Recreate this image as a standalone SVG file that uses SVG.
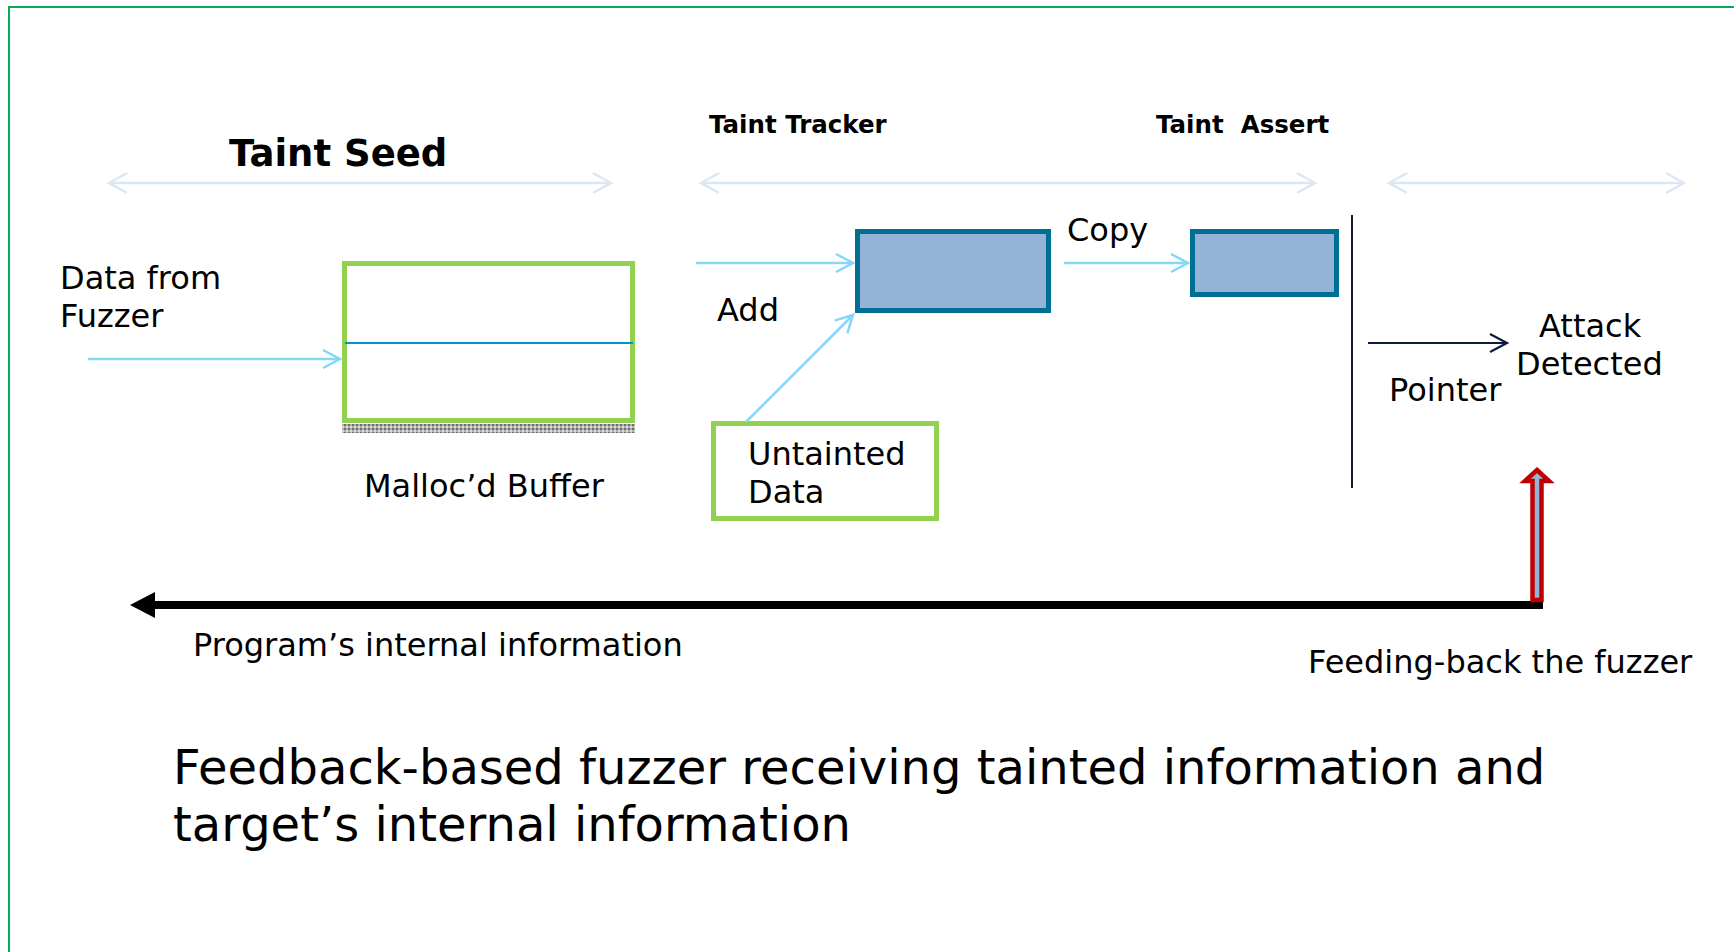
<svg xmlns="http://www.w3.org/2000/svg" width="1734" height="952" viewBox="0 0 1734 952">
  <defs>
    <style>
      .t { font-family: "DejaVu Sans", "Noto Sans", sans-serif; fill: #000; }
      .lbl { font-size: 32px; }
      .hdr { font-weight: bold; font-size: 24.5px; white-space: pre; }
      .cap { font-size: 48px; }
      .pale { stroke: #dbe7f3; stroke-width: 2.5; fill: none; marker-start: url(#mPale); marker-end: url(#mPale); }
      .sky { stroke: #86d6f7; stroke-width: 2.5; fill: none; marker-end: url(#mSky); }
      .greenbox { fill: #fff; stroke: #92d050; stroke-width: 5; }
      .bluebox { fill: #95b3d7; stroke: #006f94; stroke-width: 5; }
    </style>
    <marker id="mPale" viewBox="-22 -12 26 24" markerWidth="26" markerHeight="24" refX="0" refY="0" markerUnits="userSpaceOnUse" orient="auto-start-reverse">
      <path d="M-18,-10 L0,0 L-18,10" fill="none" stroke="#dbe7f3" stroke-width="2.5"/>
    </marker>
    <marker id="mSky" viewBox="-22 -12 26 24" markerWidth="26" markerHeight="24" refX="0" refY="0" markerUnits="userSpaceOnUse" orient="auto">
      <path d="M-17,-9 L0,0 L-17,9" fill="none" stroke="#86d6f7" stroke-width="2.5"/>
    </marker>
    <marker id="mNavy" viewBox="-22 -12 26 24" markerWidth="26" markerHeight="24" refX="0" refY="0" markerUnits="userSpaceOnUse" orient="auto">
      <path d="M-17,-9 L0,0 L-17,9" fill="none" stroke="#0d1b3e" stroke-width="2.2"/>
    </marker>
    <pattern id="hatch" width="4" height="4" patternUnits="userSpaceOnUse">
      <rect width="4" height="4" fill="#b0b0b0"/>
      <rect width="2" height="2" fill="#6e6e6e"/>
      <rect x="2" y="2" width="2" height="2" fill="#d8d8d8"/>
    </pattern>
  </defs>

  <rect width="1734" height="952" fill="#fff"/>
  <!-- frame -->
  <rect x="9" y="7" width="1800" height="1000" fill="none" stroke="#00b050" stroke-width="2"/>

  <!-- section headers -->
  <g id="hdr-taint-seed">
    <text class="t" x="229" y="166" font-size="37" font-weight="bold">Taint Seed</text>
  </g>
  <g id="hdr-taint-tracker">
    <text class="t hdr" x="709" y="133">Taint Tracker</text>
  </g>
  <g id="hdr-taint-assert">
    <text class="t hdr" x="1156" y="133">Taint  Assert</text>
  </g>

  <!-- nodes -->
  <g id="data-from-fuzzer">
    <text class="t lbl" x="60" y="289">Data from</text>
    <text class="t lbl" x="60" y="327">Fuzzer</text>
  </g>

  <g id="malloc-buffer">
    <rect x="342" y="424" width="293" height="9" fill="url(#hatch)"/>
    <rect class="greenbox" x="344.5" y="263.5" width="288" height="157"/>
    <line x1="345" y1="343" x2="633" y2="343" stroke="#0095cd" stroke-width="2"/>
    <text class="t lbl" x="364" y="497">Malloc’d Buffer</text>
  </g>

  <g id="tracker-box">
    <rect class="bluebox" x="857.5" y="231.5" width="191" height="79"/>
  </g>

  <g id="assert-box">
    <rect class="bluebox" x="1192.5" y="231.5" width="144" height="63"/>
  </g>

  <g id="untainted-data">
    <rect class="greenbox" x="713.5" y="423.5" width="223" height="95"/>
    <text class="t lbl" x="748" y="465">Untainted</text>
    <text class="t lbl" x="748" y="503">Data</text>
  </g>

  <g id="attack-detected">
    <text class="t lbl" x="1539" y="337">Attack</text>
    <text class="t lbl" x="1516" y="375">Detected</text>
  </g>

  <g id="caption">
    <text class="t cap" x="173" y="784">Feedback-based fuzzer receiving tainted information and</text>
    <text class="t cap" x="173" y="841">target’s internal information</text>
  </g>

  <!-- connectors -->
  <g id="connectors">
    <line class="pale" x1="109" y1="183" x2="611" y2="183"/>
    <line class="pale" x1="701" y1="183" x2="1315" y2="183"/>
    <line class="pale" x1="1389" y1="183" x2="1684" y2="183"/>

    <line class="sky" x1="88" y1="359" x2="340" y2="359"/>
    <line class="sky" x1="696" y1="263" x2="853" y2="263"/>
    <line class="sky" x1="1064" y1="263" x2="1188" y2="263"/>
    <line class="sky" x1="746" y1="422" x2="853" y2="315"/>

    <line x1="1352" y1="215" x2="1352" y2="488" stroke="#0f1a2e" stroke-width="2"/>
    <line x1="1368" y1="343" x2="1507" y2="343" stroke="#0d1b3e" stroke-width="2.2" marker-end="url(#mNavy)"/>

    <line x1="1543" y1="605" x2="152" y2="605" stroke="#000" stroke-width="8"/>
    <polygon points="130,605 155,592 155,618" fill="#000"/>

    <polygon points="1537,470 1549,481 1541.5,481 1541.5,600 1532.5,600 1532.5,481 1525,481" fill="#95b3d7" stroke="#c00000" stroke-width="4.5" stroke-linejoin="miter"/>

    <text class="t lbl" x="717" y="321">Add</text>
    <text class="t lbl" x="1067" y="241">Copy</text>
    <text class="t lbl" x="1389" y="401">Pointer</text>
    <text class="t lbl" x="193" y="656">Program’s internal information</text>
    <text class="t lbl" x="1308" y="673">Feeding-back the fuzzer</text>
  </g>
</svg>
